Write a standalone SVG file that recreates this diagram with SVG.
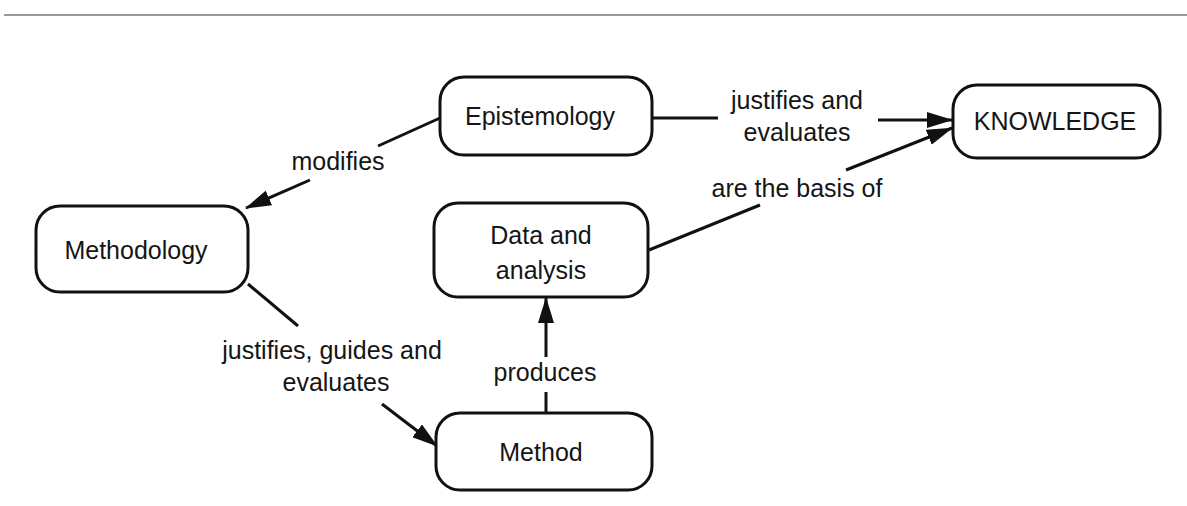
<svg xmlns="http://www.w3.org/2000/svg" width="1187" height="506" viewBox="0 0 1187 506">
  <style>
    .node rect { fill: #ffffff; stroke: #111111; stroke-width: 3; }
    .node text, .label { font-family: "Liberation Sans", Arial, sans-serif; font-size: 25px; fill: #151515; text-anchor: middle; }
    .edge { stroke: #111111; stroke-width: 3; fill: none; }
  </style>
  <defs>
    <marker id="arrow" viewBox="0 0 26 16" refX="25" refY="8" markerWidth="26" markerHeight="16" markerUnits="userSpaceOnUse" orient="auto">
      <path d="M0,0 L26,8 L0,16 Z" fill="#111111"/>
    </marker>
  </defs>

  <rect width="1187" height="506" fill="#ffffff"/>
  <!-- page rule -->
  <line x1="4" y1="15" x2="1187" y2="15" stroke="#9a9a9a" stroke-width="2"/>

  <g id="connectors">
    <!-- Epistemology modifies Methodology -->
    <line class="edge" x1="440" y1="118" x2="378" y2="146"/>
    <line class="edge" x1="310" y1="180" x2="246" y2="208" marker-end="url(#arrow)"/>
    <text class="label" x="338" y="170">modifies</text>

    <!-- Epistemology justifies and evaluates KNOWLEDGE -->
    <line class="edge" x1="652" y1="118" x2="718" y2="118"/>
    <line class="edge" x1="878" y1="120" x2="952" y2="120" marker-end="url(#arrow)"/>
    <text class="label" x="797" y="109">justifies and</text>
    <text class="label" x="797" y="141">evaluates</text>

    <!-- Data and analysis are the basis of KNOWLEDGE -->
    <line class="edge" x1="649" y1="250" x2="760" y2="205"/>
    <line class="edge" x1="846" y1="170" x2="952" y2="128" marker-end="url(#arrow)"/>
    <text class="label" x="797" y="197">are the basis of</text>

    <!-- Methodology justifies, guides and evaluates Method -->
    <line class="edge" x1="248" y1="284" x2="298" y2="326"/>
    <line class="edge" x1="382" y1="404" x2="437" y2="446" marker-end="url(#arrow)"/>
    <text class="label" x="332" y="359">justifies, guides and</text>
    <text class="label" x="336" y="391">evaluates</text>

    <!-- Method produces Data and analysis -->
    <line class="edge" x1="546" y1="413" x2="546" y2="392"/>
    <line class="edge" x1="546" y1="357" x2="546" y2="298" marker-end="url(#arrow)"/>
    <text class="label" x="545" y="381">produces</text>
  </g>

  <g id="epistemology" class="node">
    <rect x="440" y="77" width="212" height="78" rx="24"/>
    <text x="540" y="125">Epistemology</text>
  </g>

  <g id="knowledge" class="node">
    <rect x="953" y="85" width="207" height="73" rx="24"/>
    <text x="1055" y="130">KNOWLEDGE</text>
  </g>

  <g id="methodology" class="node">
    <rect x="36" y="206" width="212" height="86" rx="24"/>
    <text x="136" y="259">Methodology</text>
  </g>

  <g id="data-analysis" class="node">
    <rect x="434" y="203" width="214" height="94" rx="24"/>
    <text x="541" y="244">Data and</text>
    <text x="541" y="279">analysis</text>
  </g>

  <g id="method" class="node">
    <rect x="436" y="413" width="216" height="77" rx="24"/>
    <text x="541" y="461">Method</text>
  </g>
</svg>
